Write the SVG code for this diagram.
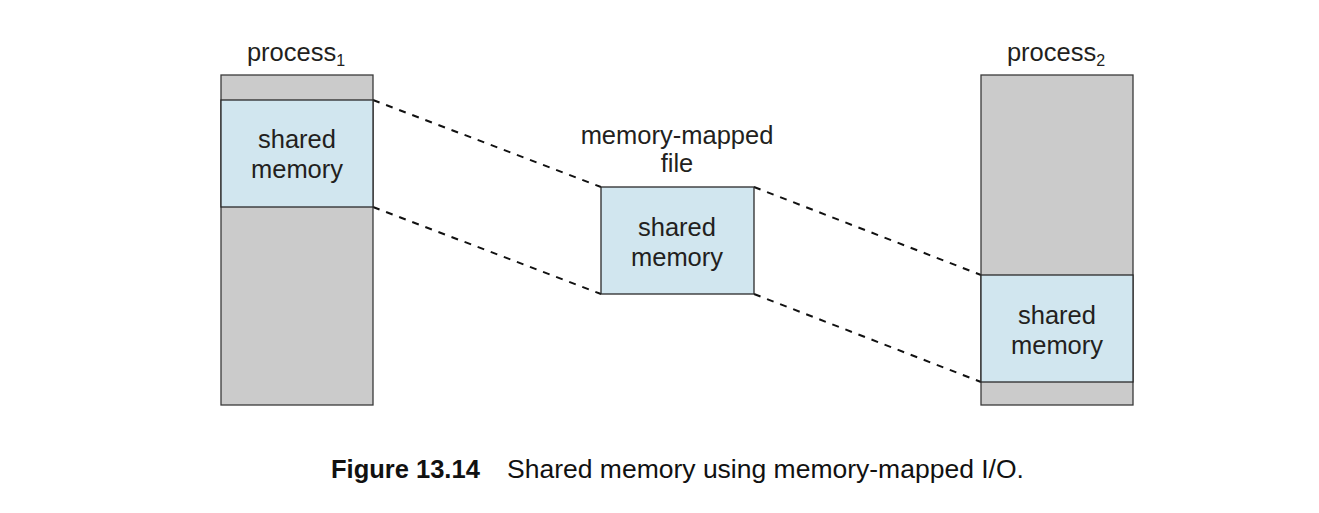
<svg xmlns="http://www.w3.org/2000/svg" width="1319" height="513" viewBox="0 0 1319 513">
<style>
.t{font-family:"Liberation Sans",Arial,sans-serif;font-size:25.5px;fill:#231f20;text-anchor:middle}
.g{fill:#cbcbcb;stroke:#3a3a3a;stroke-width:1.3}
.b{fill:#d1e6ef;stroke:#2a2a2a;stroke-width:1.3}
.d{stroke:#111;stroke-width:2;stroke-dasharray:7,7;fill:none}
.cap{font-family:"Liberation Sans",Arial,sans-serif;font-size:25.5px;fill:#111}
</style>
<rect width="1319" height="513" fill="#fff"/>
<g id="connectors">
<line class="d" x1="373" y1="100" x2="601" y2="187"/>
<line class="d" x1="373" y1="207" x2="601" y2="294"/>
<line class="d" x1="754" y1="187" x2="981" y2="275"/>
<line class="d" x1="754" y1="294" x2="981" y2="382"/>
</g>
<g id="process1">
<rect class="g" x="221" y="75" width="152" height="330"/>
<rect class="b" x="221" y="100" width="152" height="107"/>
<text class="t" x="296" y="61" font-size="24">process<tspan font-size="16" dy="5">1</tspan></text>
<text class="t" x="297" y="148">shared</text>
<text class="t" x="297" y="178">memory</text>
</g>
<g id="mmfile">
<rect class="b" x="601" y="187" width="153" height="107"/>
<text class="t" x="677" y="144">memory-mapped</text>
<text class="t" x="677" y="172">file</text>
<text class="t" x="677" y="236">shared</text>
<text class="t" x="677" y="266">memory</text>
</g>
<g id="process2">
<rect class="g" x="981" y="75" width="152" height="330"/>
<rect class="b" x="981" y="275" width="152" height="107"/>
<text class="t" x="1056" y="61" font-size="24">process<tspan font-size="16" dy="5">2</tspan></text>
<text class="t" x="1057" y="324">shared</text>
<text class="t" x="1057" y="354">memory</text>
</g>
<g id="caption">
<text class="cap" x="331" y="478"><tspan font-weight="bold">Figure 13.14</tspan><tspan x="507" font-size="26.5">Shared memory using memory-mapped I/O.</tspan></text>
</g>
</svg>
